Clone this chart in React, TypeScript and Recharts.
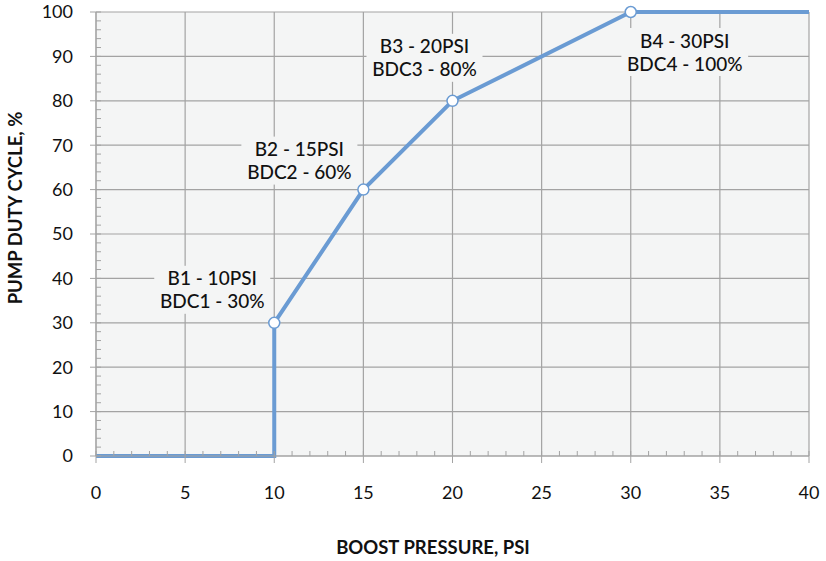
import React from 'react';
import { LineChart, Line, XAxis, YAxis, CartesianGrid, LabelList, Label } from 'recharts';

// boost pressure (psi) vs pump duty cycle (%)
const pressure = [0, 10, 10, 15, 20, 30, 40];
const duty = [0, 0, 30, 60, 80, 100, 100];
const stageNames = ['', '', 'B1 - 10PSI', 'B2 - 15PSI', 'B3 - 20PSI', 'B4 - 30PSI', ''];
const stageDuty = ['', '', 'BDC1 - 30%', 'BDC2 - 60%', 'BDC3 - 80%', 'BDC4 - 100%', ''];

const xTicks = [0, 5, 10, 15, 20, 25, 30, 35, 40];
const yTicks = [0, 10, 20, 30, 40, 50, 60, 70, 80, 90, 100];
const xMinor = Array.from({ length: 41 }, (_, i) => i);
const yMinor = Array.from({ length: 51 }, (_, i) => i * 2);

const data = pressure.map((p, i) => ({ p, d: duty[i], name: stageNames[i], dc: stageDuty[i] }));

const BLUE = '#6a9bd3';
const GRID = '#a3a3a3';
const PLOT_BG = '#f4f5f5';
const TEXT = '#111';
const FONT = 'Lato, "Open Sans", sans-serif';

// label placement relative to its point (dx, dy of first line centre)
const LABEL_OFFSET: Record<number, [number, number]> = {
  2: [-62, -45],
  3: [-64, -41],
  4: [-28, -55],
  5: [54, 28],
};

const StageLabel = (props: any) => {
  const { x, y, index } = props;
  const d = data[index];
  if (!d || !d.name) return null;
  const [dx, dy] = LABEL_OFFSET[index];
  const cx = x + dx;
  const cy = y + dy;
  const w = d.dc.length * 10.8 + 8;
  return (
    <g>
      <rect x={cx - w / 2} y={cy - 12} width={w} height={48} fill={PLOT_BG} />
      <text x={cx} y={cy} textAnchor="middle" dominantBaseline="central" fontSize={19} fill={TEXT} fontFamily={FONT} fontWeight={500}>
        {d.name}
      </text>
      <text x={cx} y={cy + 23} textAnchor="middle" dominantBaseline="central" fontSize={19} fill={TEXT} fontFamily={FONT} fontWeight={500}>
        {d.dc}
      </text>
    </g>
  );
};

const StageDot = (props: any) => {
  const { cx, cy, index } = props;
  if (!data[index] || !data[index].name) return <g key={`d${index}`} />;
  return <circle key={`d${index}`} cx={cx} cy={cy} r={5.5} fill="#fff" stroke={BLUE} strokeWidth={1.5} />;
};

const NoTick = () => <g />;

export default function App() {
  return (
    <div style={{ width: 826, height: 561, background: '#fff' }}>
      <style>{'body{margin:0}'}</style>
      <LineChart width={826} height={561} data={data} margin={{ top: 12, right: 17, bottom: 45, left: 0 }}>
        <CartesianGrid fill={PLOT_BG} stroke={GRID} strokeWidth={1.2} />
        <XAxis
          dataKey="p"
          type="number"
          domain={[0, 40]}
          ticks={xTicks}
          height={60}
          tickSize={7}
          tickMargin={23}
          stroke={GRID}
          tick={{ fill: TEXT, fontSize: 18, fontFamily: FONT }}
          tickLine={{ stroke: GRID }}
        >
          <Label
            content={() => (
              <text x={433} y={547} textAnchor="middle" dominantBaseline="central" fontSize={18.5} fontWeight="bold" fill={TEXT} fontFamily={FONT}>
                BOOST PRESSURE, PSI
              </text>
            )}
          />
        </XAxis>
        <XAxis
          xAxisId="minor"
          dataKey="p"
          type="number"
          domain={[0, 40]}
          ticks={xMinor}
          interval={0}
          mirror
          axisLine={false}
          tick={NoTick}
          tickSize={5}
          tickLine={{ stroke: GRID }}
          height={10}
        />
        <YAxis
          type="number"
          domain={[0, 100]}
          ticks={yTicks}
          width={96}
          tickSize={6}
          tickMargin={17}
          stroke={GRID}
          tick={{ fill: TEXT, fontSize: 18, fontFamily: FONT }}
          tickLine={{ stroke: GRID }}
        >
          <Label
            content={() => (
              <text x={15} y={208} textAnchor="middle" dominantBaseline="central" fontSize={18.5} fontWeight="bold" fill={TEXT} fontFamily={FONT} transform="rotate(-90 15 208)">
                PUMP DUTY CYCLE, %
              </text>
            )}
          />
        </YAxis>
        <YAxis
          yAxisId="minor"
          type="number"
          domain={[0, 100]}
          ticks={yMinor}
          interval={0}
          mirror
          axisLine={false}
          tick={NoTick}
          tickSize={5}
          tickLine={{ stroke: GRID }}
          width={10}
        />
        {/* invisible series so the minor-tick axes get drawn */}
        <Line
          xAxisId="minor"
          yAxisId="minor"
          dataKey="d"
          stroke="none"
          dot={false}
          activeDot={false}
          legendType="none"
          isAnimationActive={false}
        />
        <Line
          dataKey="d"
          type="linear"
          stroke={BLUE}
          strokeWidth={4}
          dot={StageDot}
          activeDot={false}
          isAnimationActive={false}
        >
          <LabelList dataKey="name" content={StageLabel} />
        </Line>
      </LineChart>
    </div>
  );
}
